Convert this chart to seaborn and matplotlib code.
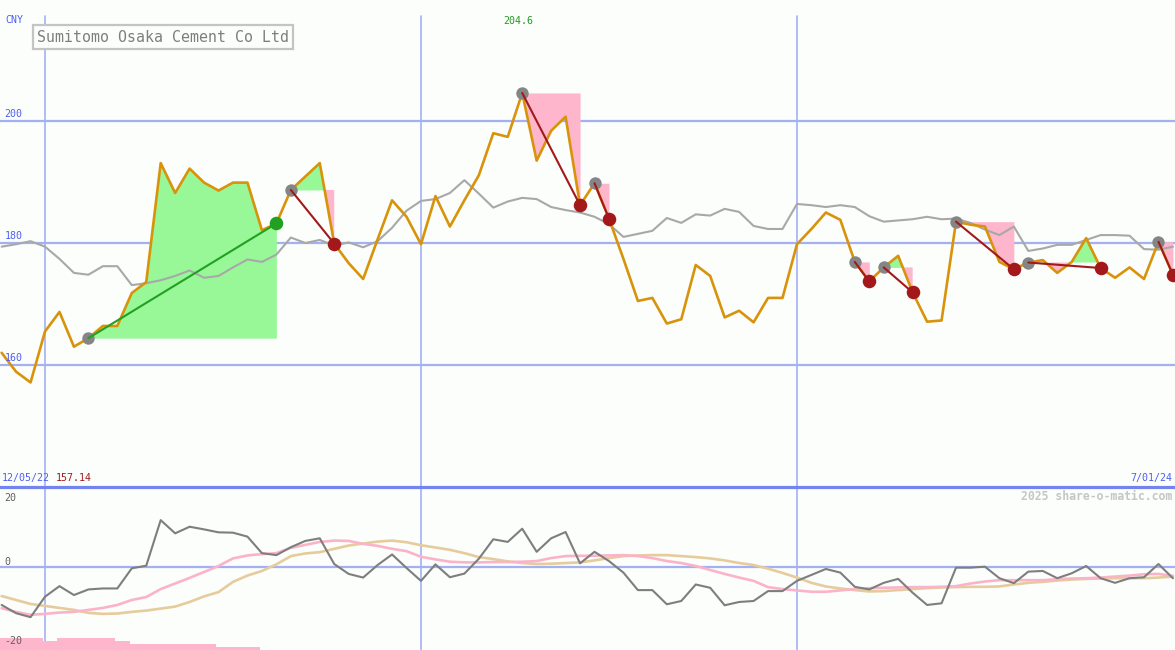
import matplotlib
matplotlib.use("Agg")
import matplotlib.pyplot as plt
import numpy as np
import pandas as pd
import seaborn as sns

# weekly closes, Sumitomo Osaka Cement (CNY as labelled on the chart)
dates = pd.date_range("2022-12-12", periods=82, freq="7D")

price = [
    162.0, 158.9, 157.14, 165.5, 168.7, 163.0, 164.4, 166.4, 166.4, 171.8,
    173.6, 193.1, 188.2, 192.2, 189.9, 188.6, 189.9, 189.9, 182.1, 183.2,
    188.7, 190.9, 193.1, 179.9, 176.7, 174.1, 180.6, 187.0, 184.3, 179.8,
    187.7, 182.7, 187.0, 191.1, 198.0, 197.4, 204.6, 193.5, 198.4, 200.7,
    186.2, 189.8, 184.0, 177.4, 170.5, 171.0, 166.8, 167.5, 176.4, 174.6,
    167.8, 168.9, 167.0, 171.0, 171.0, 179.8, 182.3, 185.0, 183.8, 176.9,
    173.7, 176.0, 177.9, 171.9, 167.1, 167.3, 183.5, 183.0, 182.7, 176.9,
    175.7, 176.8, 177.2, 175.1, 176.9, 180.8, 175.9, 174.3, 176.0, 174.1,
    180.2, 174.8]

moving_avg = [
    179.4, 179.8, 180.3, 179.4, 177.4, 175.1, 174.8, 176.2, 176.2, 173.1,
    173.4, 173.9, 174.6, 175.5, 174.3, 174.6, 176.0, 177.3, 176.9, 178.1,
    180.9, 180.0, 180.5, 179.6, 180.1, 179.3, 180.3, 182.5, 185.3, 186.9,
    187.2, 188.2, 190.3, 188.1, 185.8, 186.8, 187.4, 187.2, 185.9, 185.4,
    185.0, 184.3, 183.1, 181.0, 181.5, 182.0, 184.1, 183.3, 184.7, 184.5,
    185.6, 185.1, 182.8, 182.3, 182.3, 186.4, 186.2, 185.9, 186.2, 185.9,
    184.4, 183.5, 183.7, 183.9, 184.3, 183.9, 184.0, 183.3, 182.2, 181.3,
    182.7, 178.7, 179.1, 179.7, 179.7, 180.5, 181.3, 181.3, 181.2, 179.0,
    178.9, 179.4]

momentum = [
    -11.5, -14.0, -15.2, -9.0, -5.8, -8.5, -6.8, -6.5, -6.5, -0.4,
    0.4, 14.2, 10.2, 12.2, 11.4, 10.5, 10.4, 9.2, 4.2, 3.6,
    6.0, 7.9, 8.7, 0.9, -2.1, -3.2, 0.6, 3.8, -0.3, -4.2,
    0.8, -3.1, -2.0, 2.5, 8.4, 7.6, 11.6, 4.6, 8.7, 10.6,
    1.1, 4.6, 1.8, -1.7, -7.0, -7.0, -11.3, -10.3, -5.3, -6.3,
    -11.6, -10.6, -10.3, -7.3, -7.3, -4.2, -2.4, -0.6, -1.7, -6.0,
    -6.8, -4.8, -3.6, -7.8, -11.5, -11.0, -0.2, -0.2, 0.1, -3.4,
    -4.9, -1.4, -1.2, -3.4, -1.9, 0.3, -3.4, -4.8, -3.4, -3.1,
    0.9, -3.4]

signal_fast = [
    -12.5, -13.6, -14.5, -14.2, -13.8, -13.6, -13.0, -12.4, -11.5, -10.0,
    -9.1, -6.7, -5.0, -3.3, -1.5, 0.3, 2.6, 3.5, 3.9, 4.2,
    5.8, 6.7, 7.6, 8.0, 7.9, 7.0, 6.4, 5.5, 4.8, 3.1,
    2.3, 1.6, 1.4, 1.4, 1.5, 1.5, 1.6, 1.8, 2.7, 3.3,
    3.4, 3.4, 3.5, 3.6, 3.3, 2.7, 1.8, 1.2, 0.3, -0.9,
    -2.1, -3.2, -4.2, -6.1, -6.7, -7.1, -7.5, -7.5, -7.1, -6.7,
    -6.4, -6.3, -6.2, -6.1, -6.1, -6.0, -5.8, -5.0, -4.4, -4.0,
    -4.0, -4.0, -4.0, -3.7, -3.5, -3.4, -3.2, -2.9, -2.6, -2.2,
    -2.1, -2.7]

signal_slow = [
    -8.8, -10.0, -11.2, -11.8, -12.4, -13.0, -13.9, -14.2, -14.1, -13.6,
    -13.2, -12.6, -12.0, -10.6, -8.9, -7.6, -4.5, -2.6, -1.2, 0.8,
    3.3, 4.1, 4.5, 5.5, 6.5, 7.1, 7.7, 8.0, 7.5, 6.6,
    5.9, 5.2, 4.2, 3.0, 2.4, 1.7, 1.2, 0.9, 1.0, 1.2,
    1.4, 2.0, 2.7, 3.3, 3.5, 3.6, 3.6, 3.3, 3.0, 2.6,
    2.0, 1.2, 0.6, -0.5, -1.8, -3.2, -4.8, -5.9, -6.5, -7.0,
    -7.4, -7.3, -7.0, -6.7, -6.4, -6.2, -6.1, -6.0, -6.0, -5.9,
    -5.3, -4.8, -4.5, -4.1, -3.8, -3.6, -3.5, -3.4, -3.4, -3.4,
    -3.2, -2.9]

# pink bars along the bottom of the lower panel (first 18 weeks)
bar_tops = [-21.6, -21.6, -21.6, -22.4, -21.4, -21.4, -21.4, -21.4, -22.4,
            -23.3, -23.3, -23.3, -23.3, -23.3, -23.3, -24.2, -24.2, -24.2]

# trend segments: (start week, end week)
trends = [(6, 19), (20, 23), (36, 40), (41, 42), (59, 60),
          (61, 63), (66, 70), (71, 76), (80, 81)]

date_ticks = ["2023-01-02", "2023-07-03", "2024-01-01"]
date_tick_labels = ["1/02/23", "7/03/23", "1/01/24"]
price_ticks = [200, 180, 160]
osc_ticks = [20, 0, -20]

BG = "#fbfefb"
GRID = "#a3b1f3"
BLUE_TXT = "#4f5ef0"
MONO = "DejaVu Sans Mono"

sns.set_style("white")
plt.rcParams["font.family"] = ["DejaVu Sans Mono", "DejaVu Sans"]

W, H = 1175, 650
fig = plt.figure(figsize=(W / 100, H / 100), dpi=100, facecolor=BG)
ax1 = fig.add_axes([0, 163 / H, 1, 487 / H], facecolor=BG)
ax2 = fig.add_axes([0, 0, 1, 163 / H], facecolor=BG)

xlim = (pd.Timestamp("2022-12-11 05:00"), pd.Timestamp("2024-07-02"))
for ax in (ax1, ax2):
    ax.set_xlim(*xlim)
    ax.set_xticks([])
    ax.set_yticks([])
    for sp in ax.spines.values():
        sp.set_visible(False)
ax1.set_ylim(140, 219.84)
ax2.set_ylim(-25.15, 24.24)
ax2.spines["top"].set_visible(True)
ax2.spines["top"].set_color("#7484ef")
ax2.spines["top"].set_linewidth(2.3)

# grid
for v in price_ticks:
    ax1.axhline(v, color=GRID, lw=1.6, zorder=0)
ax2.axhline(0, color=GRID, lw=1.6, zorder=0)
for d in date_ticks:
    ax1.axvline(pd.Timestamp(d), ymax=(487 - 16) / 487, color=GRID, lw=1.2, zorder=0)
    ax2.axvline(pd.Timestamp(d), color=GRID, lw=1.2, zorder=0)

df = pd.DataFrame({"date": dates, "price": price, "ma": moving_avg,
                   "mom": momentum, "fast": signal_fast, "slow": signal_slow})
p = np.array(price)

# trend fills, lines and markers
for s, e in trends:
    level = p[s]
    xs = dates[s:e + 1]
    ys = p[s:e + 1]
    ax1.fill_between(xs, ys, level, where=ys >= level, interpolate=True,
                     color="#98f898", lw=0, zorder=1)
    ax1.fill_between(xs, ys, level, where=ys <= level, interpolate=True,
                     color="#fdb6cb", lw=0, zorder=1)

sns.lineplot(data=df, x="date", y="ma", ax=ax1, color="#a8a8a8", lw=1.5, zorder=2)
sns.lineplot(data=df, x="date", y="price", ax=ax1, color="#d9930b", lw=1.9, zorder=3)

for s, e in trends:
    up = p[e] > p[s]
    col = "#22a022" if up else "#a3191b"
    ax1.scatter([dates[s]], [p[s]], s=80, color="#858585", lw=0, zorder=3.5)
    ax1.plot([dates[s], dates[e]], [p[s], p[e]], color=col, lw=1.5, zorder=4)
    ax1.scatter([dates[e]], [p[e]], s=95, color=col, lw=0, zorder=5)

# lower panel
sns.lineplot(data=df, x="date", y="slow", ax=ax2, color="#e6cc9c", lw=1.9, zorder=2)
sns.lineplot(data=df, x="date", y="fast", ax=ax2, color="#fbb3c9", lw=1.9, zorder=2)
sns.lineplot(data=df, x="date", y="mom", ax=ax2, color="#7e7e7e", lw=1.5, zorder=3)
bottom = ax2.get_ylim()[0]
ax2.bar(dates[:len(bar_tops)] - pd.Timedelta(days=1), np.array(bar_tops) - bottom,
        bottom=bottom, width=7, align="edge", color="#fdb6cb", lw=0, zorder=1)

for ax in (ax1, ax2):
    ax.set_xlabel("")
    ax.set_ylabel("")
    ax.set_xlim(*xlim)

# labels
tx = ax1.get_xaxis_transform()
for d, lab in zip(date_ticks, date_tick_labels):
    ax1.text(pd.Timestamp(d), 1 - 8 / 487, lab, ha="center", va="center",
             fontsize=7.2, color=BLUE_TXT, family=MONO)
ty = ax1.get_yaxis_transform()
for v in price_ticks:
    ax1.text(0.004, v + 0.3, str(v), transform=ty, ha="left", va="bottom",
             fontsize=7.2, color=BLUE_TXT, family=MONO)
ty2 = ax2.get_yaxis_transform()
for v, yy in zip(osc_ticks, [21.0, 1.5, -22.5]):
    ax2.text(0.004, yy, str(v), transform=ty2, ha="left", va="center",
             fontsize=7.2, color="#606060", family=MONO)

peak = int(np.argmax(p))
ax1.text(dates[peak] - pd.Timedelta(days=2), 1 - 21 / 487, f"{p[peak]:.1f}",
         transform=tx, ha="center", va="center", fontsize=7.2, color="#1f9a1f", family=MONO)

def ftxt(x, y, s, **kw):
    fig.text(x / W, 1 - y / H, s, family=MONO, **kw)

ftxt(5, 20, "CNY", fontsize=7.2, color=BLUE_TXT, va="center", ha="left")
ftxt(37, 37, "Sumitomo Osaka Cement Co Ltd", fontsize=10.7, color="#7e7e7e",
     va="center", ha="left",
     bbox=dict(boxstyle="square,pad=0.28", fc=BG, ec="#c4c4c4", lw=1.6))
ftxt(2, 478, "12/05/22", fontsize=7.2, color=BLUE_TXT, va="center", ha="left")
ftxt(56, 478, f"{min(price):.2f}", fontsize=7.2, color="#a3191b", va="center", ha="left")
ftxt(1172, 478, "7/01/24", fontsize=7.2, color=BLUE_TXT, va="center", ha="right")
ftxt(1172, 496, "2025 share-o-matic.com", fontsize=8.3, color="#c6c6c6",
     va="center", ha="right", fontweight="bold")

fig.savefig("out.png", dpi=100, facecolor=BG)
